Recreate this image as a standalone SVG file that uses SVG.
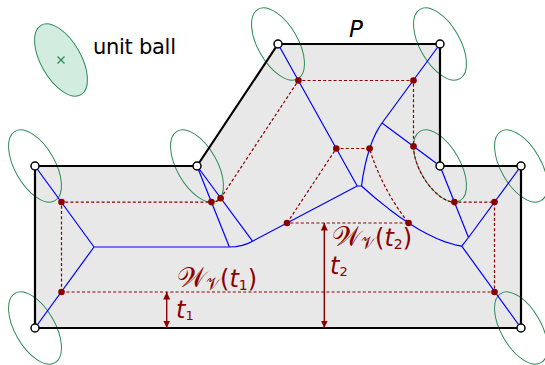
<svg xmlns="http://www.w3.org/2000/svg" width="545" height="365" viewBox="0 0 545 365">
<style>
.poly{fill:#e8e8e8;stroke:none}
.edge{fill:none;stroke:#000;stroke-width:2.2;stroke-linejoin:miter}
.ball{fill:none;stroke:#2e8b57;stroke-width:1}
.sk{fill:none;stroke:#0000ff;stroke-width:1.2;stroke-linejoin:round}
.wf{fill:none;stroke:#8b0000;stroke-width:1.2;stroke-dasharray:3 2.2}
.dot{fill:#8b0000}
.vtx{fill:#fff;stroke:#000;stroke-width:1.5}
.arr{stroke:#8b0000;stroke-width:1.4;marker-start:url(#ah);marker-end:url(#ah)}
.lab{fill:#8b0000;font-family:"DejaVu Sans",sans-serif;font-size:24px}
.it{font-style:italic}
</style>
<defs>
<marker id="ah" markerUnits="userSpaceOnUse" markerWidth="8" markerHeight="7" refX="7.5" refY="3.5" orient="auto-start-reverse">
<path d="M0,0 L7.5,3.5 L0,7 Z" fill="#8b0000"/>
</marker>
</defs>

<g id="legend">
<g transform="translate(61,60)">
<ellipse cx="0" cy="0" rx="40" ry="20" transform="rotate(60)" fill="#d2ece0" stroke="#2e8b57" stroke-width="1"/>
<path d="M-3.5,-3.5 L3.5,3.5 M-3.5,3.5 L3.5,-3.5" stroke="#2e8b57" stroke-width="1.3"/>
</g>
<text x="93" y="54" font-family="DejaVu Sans, sans-serif" font-size="21" textLength="83" fill="#000">unit ball</text>
</g>

<g id="polygon-P">
<polygon class="poly" points="35,166 197,166 278,44 440,44 440,166 521,166 521,328 35,328"/>
</g>

<g id="vertex-balls">
<ellipse class="ball" cx="0" cy="0" rx="40" ry="20" transform="translate(35,166) rotate(60)"/>
<ellipse class="ball" cx="0" cy="0" rx="40" ry="20" transform="translate(197,166) rotate(60)"/>
<ellipse class="ball" cx="0" cy="0" rx="40" ry="20" transform="translate(278,44) rotate(60)"/>
<ellipse class="ball" cx="0" cy="0" rx="40" ry="20" transform="translate(440,44) rotate(60)"/>
<ellipse class="ball" cx="0" cy="0" rx="40" ry="20" transform="translate(440,166) rotate(60)"/>
<ellipse class="ball" cx="0" cy="0" rx="40" ry="20" transform="translate(521,166) rotate(60)"/>
<ellipse class="ball" cx="0" cy="0" rx="40" ry="20" transform="translate(521,328) rotate(60)"/>
<ellipse class="ball" cx="0" cy="0" rx="40" ry="20" transform="translate(35,328) rotate(60)"/>
</g>

<g id="connectors">
<g id="skeleton" class="sk">
<path d="M35,166 L94,247 M35,328 L94,247 L229.4,247"/>
<path d="M229.4,247 L236,246.6 L242.2,245.4 L247.5,243.6 L252.5,241.2"/>
<path d="M197,166 L229.4,247 M197,166 L252.5,241.2 L357.2,186 M278,44 L357.2,186 L361.5,186"/>
<path d="M361.5,186 L363.1,175.4 L364.9,166.2 L366.8,158.2 L369.5,149 L372.3,141.1 L375.5,133.9 L378.7,128 L382,123"/>
<path d="M440,44 L382,123 L440,166"/>
<path d="M361.5,186 L374.9,197.7 L388.8,208.9 L399.3,216.7 L408.6,223 L419,229.5 L426.9,233.8 L436.7,238.5 L444.5,241.6 L454.9,244.8 L461.7,246.1"/>
<path d="M440,166 L468.5,237.5 L521,166 M468.5,237.5 L461.7,246.1 L521,328"/>
</g>
<g id="wavefront-t1">
<path class="wf" d="M61.5,292 L61.5,202.1 L211.4,202.1 A40,20 60 0 0 220.6,198.3 L298.4,80.5 L413.5,80.5 L413.5,146.4 A40,20 60 0 0 454.4,202.1 L494.5,202.1 L494.5,292 Z"/>
</g>
<g id="wavefront-t2">
<path class="wf" d="M287,223 L336.3,148.5 L369.6,148.5 A116.5,58.2 60 0 0 408.6,223 Z"/>
</g>
</g>

<g id="boundary">
<polygon class="edge" points="35,166 197,166 278,44 440,44 440,166 521,166 521,328 35,328"/>
</g>

<g id="wavefront-vertices">
<circle class="dot" cx="298.4" cy="80.5" r="3.3"/>
<circle class="dot" cx="413.5" cy="80.5" r="3.3"/>
<circle class="dot" cx="336.3" cy="148.5" r="3.3"/>
<circle class="dot" cx="369.6" cy="148.5" r="3.3"/>
<circle class="dot" cx="413.5" cy="146.4" r="3.3"/>
<circle class="dot" cx="61.5" cy="202.1" r="3.3"/>
<circle class="dot" cx="211.4" cy="202.1" r="3.3"/>
<circle class="dot" cx="220.6" cy="198.3" r="3.3"/>
<circle class="dot" cx="61.5" cy="292" r="3.3"/>
<circle class="dot" cx="287" cy="223" r="3.3"/>
<circle class="dot" cx="408.6" cy="223" r="3.3"/>
<circle class="dot" cx="454.4" cy="202.1" r="3.3"/>
<circle class="dot" cx="494.5" cy="202.1" r="3.3"/>
<circle class="dot" cx="494.5" cy="292" r="3.3"/>
</g>

<g id="polygon-vertices">
<circle class="vtx" cx="35" cy="166" r="4"/>
<circle class="vtx" cx="197" cy="166" r="4"/>
<circle class="vtx" cx="278" cy="44" r="4"/>
<circle class="vtx" cx="440" cy="44" r="4"/>
<circle class="vtx" cx="440" cy="166" r="4"/>
<circle class="vtx" cx="521" cy="166" r="4"/>
<circle class="vtx" cx="521" cy="328" r="4"/>
<circle class="vtx" cx="35" cy="328" r="4"/>
</g>

<g id="label-P">
<text x="349" y="37" font-family="DejaVu Sans, sans-serif" font-style="italic" font-size="23" fill="#000">P</text>
</g>

<g id="measure-t1">
<line class="arr" x1="166.7" y1="292" x2="166.7" y2="328"/>
<text class="lab" x="176" y="318" font-size="21"><tspan class="it">t</tspan><tspan font-size="13" dy="2">1</tspan></text>
</g>
<g id="measure-t2">
<line class="arr" x1="324.3" y1="223" x2="324.3" y2="328"/>
<text class="lab" x="330" y="274" font-size="21"><tspan class="it">t</tspan><tspan font-size="13" dy="2">2</tspan></text>
</g>

<g id="label-W1">
<text class="lab" x="177" y="287"><tspan font-size="28">𝒲</tspan><tspan font-size="17" dy="3">𝒱</tspan><tspan dy="-3">(</tspan><tspan class="it">t</tspan><tspan font-size="14" dy="3">1</tspan><tspan dy="-3">)</tspan></text>
</g>
<g id="label-W2">
<text class="lab" x="332" y="246"><tspan font-size="28">𝒲</tspan><tspan font-size="17" dy="3">𝒱</tspan><tspan dy="-3">(</tspan><tspan class="it">t</tspan><tspan font-size="14" dy="3">2</tspan><tspan dy="-3">)</tspan></text>
</g>
</svg>
